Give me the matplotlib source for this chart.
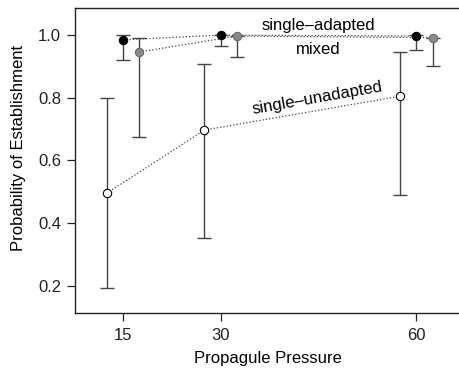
import matplotlib
matplotlib.use("Agg")
import matplotlib.pyplot as plt
import numpy as np

plt.rcParams['font.family'] = ['Liberation Sans', 'DejaVu Sans']

# propagule pressure levels
pressure = [15, 30, 60]
offset = 2.5

# point estimates and confidence bounds per treatment
adapted_p = [0.985, 1.0, 0.997]
adapted_lo = [0.919, 0.965, 0.952]
adapted_hi = [1.0, 1.0, 1.0]

mixed_p = [0.946, 0.997, 0.992]
mixed_lo = [0.675, 0.93, 0.90]
mixed_hi = [0.992, 0.997, 0.992]

unadapted_p = [0.495, 0.697, 0.805]
unadapted_lo = [0.193, 0.352, 0.489]
unadapted_hi = [0.798, 0.908, 0.947]

fig = plt.figure(figsize=(4.6, 3.71), dpi=100)
ax = fig.add_axes([0.163, 0.157, 0.84, 0.821])

series = [
    (np.array(pressure) - offset, unadapted_p, unadapted_lo, unadapted_hi, 'white', 'black'),
    (np.array(pressure), adapted_p, adapted_lo, adapted_hi, 'black', 'black'),
    (np.array(pressure) + offset, mixed_p, mixed_lo, mixed_hi, '#8a8a8a', '#6a6a6a'),
]

for xs, p, lo, hi, fc, ec in series:
    p = np.array(p)
    yerr = [p - np.array(lo), np.array(hi) - p]
    ax.errorbar(xs, p, yerr=yerr, fmt='none', ecolor='#444444', elinewidth=1.0,
                capsize=5, capthick=1.0, zorder=2)
    ax.plot(xs, p, linestyle=':', color='#444444', lw=0.9, zorder=1)
    ax.plot(xs, p, linestyle='none', marker='o', markersize=6, markerfacecolor=fc,
            markeredgecolor=ec, markeredgewidth=0.8, zorder=3)

fs = 12
ax.text(45.0, 1.032, 'single\u2013adapted', ha='center', va='center', fontsize=fs)
ax.text(44.9, 0.955, 'mixed', ha='center', va='center', fontsize=fs)
ax.text(44.9, 0.80, 'single\u2013unadapted', ha='center', va='center', fontsize=fs,
        rotation=10)

ax.set_xlim(7.66, 66.9)
ax.set_ylim(0.114, 1.086)
ax.set_xticks(pressure)
ax.set_yticks([0.2, 0.4, 0.6, 0.8, 1.0])
ax.set_yticklabels(['0.2', '0.4', '0.6', '0.8', '1.0'])
ax.tick_params(direction='out', length=6, width=0.9, labelsize=fs, colors='#222222')
ax.tick_params(axis='x', pad=5)
ax.tick_params(axis='y', pad=4)
ax.spines['right'].set_visible(False)
for s in ['left', 'top', 'bottom']:
    ax.spines[s].set_linewidth(1.0)
    ax.spines[s].set_color('#222222')

ax.set_xlabel('Propagule Pressure', fontsize=fs, labelpad=6)
ax.set_ylabel('Probability of Establishment', fontsize=fs)
ax.yaxis.set_label_coords(-0.127, 0.542)

fig.savefig('out.png', dpi=100)
